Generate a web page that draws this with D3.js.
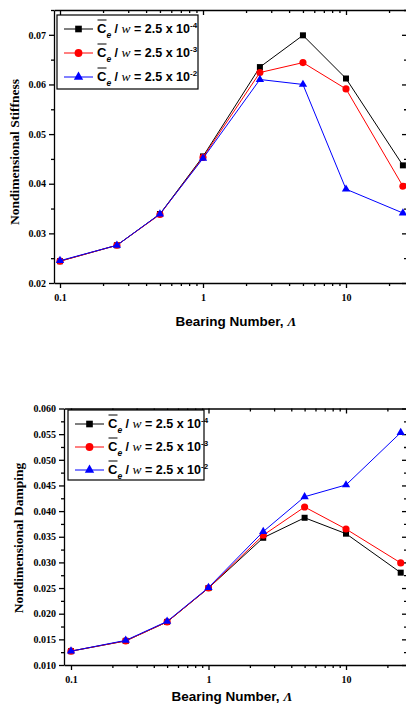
<!DOCTYPE html>
<html>
<head>
<meta charset="utf-8">
<script src="https://cdn.jsdelivr.net/npm/d3@7"></script>
<style>
  body { margin: 0; background: #fff; }
  svg { display: block; }
  .tick text { font-family: "Liberation Serif", "Times New Roman", serif; font-weight: bold; font-size: 10px; }
</style>
</head>
<body>
<svg id="chart" width="406" height="704"></svg>
<script>
// bearing numbers (x) shared by both panels
const bearing = [0.1, 0.25, 0.5, 1, 2.5, 5, 10, 25];
const exponents = ["-4", "-3", "-2"];
const colors = ["#000000", "#ff0000", "#0000ff"];
const shapes = [d3.symbolSquare, d3.symbolCircle, d3.symbolTriangle];
const shapeSize = [36, 40, 30];

const stiffA = [0.0244, 0.0276, 0.0339, 0.0455, 0.0635, 0.0699, 0.0612, 0.0437];
const stiffB = [0.0244, 0.0276, 0.0338, 0.0453, 0.0624, 0.0644, 0.0591, 0.0395];
const stiffC = [0.0245, 0.0276, 0.0339, 0.0451, 0.0610, 0.0600, 0.0389, 0.0341];

const dampA = [0.0127, 0.0147, 0.0184, 0.0250, 0.0348, 0.0387, 0.0356, 0.0280];
const dampB = [0.0127, 0.0147, 0.0184, 0.0250, 0.0353, 0.0408, 0.0365, 0.0299];
const dampC = [0.0127, 0.0148, 0.0185, 0.0251, 0.0360, 0.0428, 0.0451, 0.0553];

const xMajor = [0.1, 1, 10];
const xMinor = [0.2, 0.3, 0.4, 0.5, 0.6, 0.7, 0.8, 0.9, 2, 3, 4, 5, 6, 7, 8, 9, 20];

const svg = d3.select("#chart");

function drawPanel(cfg) {
  const g = svg.append("g");

  // log x scale anchored so that 0.1 and 10 fall where the picture has them
  const x = d3.scaleLog().domain([0.1, 10]).range([cfg.x01, cfg.x10]);
  x.domain([x.invert(cfg.left), x.invert(cfg.right)]).range([cfg.left, cfg.right]);
  const y = d3.scaleLinear().domain(cfg.yDomain).range([cfg.bottom, cfg.top]);

  const axisStyle = sel => sel.selectAll("path, line").attr("stroke", "#000").attr("stroke-width", 1.3);

  // bottom
  g.append("g").attr("transform", `translate(0,${cfg.bottom})`)
    .call(d3.axisBottom(x).tickValues(xMinor).tickSize(3).tickSizeOuter(0).tickFormat(""))
    .call(axisStyle);
  g.append("g").attr("transform", `translate(0,${cfg.bottom})`)
    .call(d3.axisBottom(x).tickValues(xMajor).tickSize(5).tickSizeOuter(0).tickPadding(6).tickFormat(d3.format("")))
    .call(axisStyle)
    .call(a => a.select(".domain").remove());
  // top (mirror, inward)
  g.append("g").attr("transform", `translate(0,${cfg.top})`)
    .call(d3.axisTop(x).tickValues(xMinor).tickSize(-3).tickSizeOuter(0).tickFormat(""))
    .call(axisStyle);
  g.append("g").attr("transform", `translate(0,${cfg.top})`)
    .call(d3.axisTop(x).tickValues(xMajor).tickSize(-5).tickSizeOuter(0).tickFormat(""))
    .call(axisStyle)
    .call(a => a.select(".domain").remove());
  // left
  g.append("g").attr("transform", `translate(${cfg.left},0)`)
    .call(d3.axisLeft(y).tickValues(cfg.yMinor).tickSize(3).tickSizeOuter(0).tickFormat(""))
    .call(axisStyle);
  g.append("g").attr("transform", `translate(${cfg.left},0)`)
    .call(d3.axisLeft(y).tickValues(cfg.yMajor).tickSize(5).tickSizeOuter(0).tickPadding(3).tickFormat(d3.format(cfg.yFormat)))
    .call(axisStyle)
    .call(a => a.select(".domain").remove());
  // right (mirror, inward)
  g.append("g").attr("transform", `translate(${cfg.right},0)`)
    .call(d3.axisRight(y).tickValues(cfg.yMinor).tickSize(-3).tickSizeOuter(0).tickFormat(""))
    .call(axisStyle);
  g.append("g").attr("transform", `translate(${cfg.right},0)`)
    .call(d3.axisRight(y).tickValues(cfg.yMajor).tickSize(-5).tickSizeOuter(0).tickFormat(""))
    .call(axisStyle)
    .call(a => a.select(".domain").remove());

  g.selectAll(".tick text").attr("fill", "#000");

  // axis titles
  g.append("text")
    .attr("transform", `translate(${cfg.yLabelX},${cfg.yLabelY}) rotate(-90)`)
    .attr("text-anchor", "middle")
    .style("font-family", "'Liberation Serif', 'Times New Roman', serif")
    .style("font-weight", "bold")
    .style("font-size", cfg.yLabelSize + "px")
    .text(cfg.yLabel);

  const xl = g.append("text")
    .attr("x", cfg.xLabelX).attr("y", cfg.xLabelY)
    .attr("text-anchor", "middle")
    .style("font-family", "'Liberation Sans', Arial, sans-serif")
    .style("font-weight", "bold")
    .style("font-size", "13.5px");
  xl.append("tspan").text("Bearing Number, ");
  xl.append("tspan").style("font-family", "'Liberation Serif', serif").style("font-style", "italic").text("Λ");

  // series
  const line = d3.line().x(d => x(d[0])).y(d => y(d[1]));
  cfg.series.forEach((vals, i) => {
    const pts = bearing.map((b, k) => [b, vals[k]]);
    g.append("path").datum(pts)
      .attr("d", line).attr("fill", "none")
      .attr("stroke", colors[i]).attr("stroke-width", 1);
    g.selectAll(null).data(pts).join("path")
      .attr("transform", d => `translate(${x(d[0])},${y(d[1])})`)
      .attr("d", d3.symbol(shapes[i], shapeSize[i]))
      .attr("fill", colors[i]);
  });

  // legend
  const lg = g.append("g").attr("transform", `translate(${cfg.legX},${cfg.legY})`);
  lg.append("rect")
    .attr("width", cfg.legW).attr("height", cfg.legH)
    .attr("fill", "#fff").attr("stroke", "#000").attr("stroke-width", 1.2);
  exponents.forEach((ex, i) => {
    const ry = 14 + i * cfg.legStep;
    lg.append("line").attr("x1", 7).attr("x2", 36).attr("y1", ry).attr("y2", ry)
      .attr("stroke", colors[i]).attr("stroke-width", 1);
    lg.append("path").attr("transform", `translate(21.5,${ry})`)
      .attr("d", d3.symbol(shapes[i], shapeSize[i] + 8)).attr("fill", colors[i]);

    const t = lg.append("text")
      .attr("x", 40).attr("y", ry + 3.5)
      .style("font-family", "'Liberation Sans', Arial, sans-serif")
      .style("font-weight", "bold")
      .style("font-size", "12.5px");
    t.append("tspan").style("font-size", "13px").text("C");
    t.append("tspan").attr("dy", 5).style("font-size", "8.5px").style("font-style", "italic").text("e");
    t.append("tspan").attr("dy", -5).text(" / ");
    t.append("tspan").style("font-family", "'Liberation Serif', serif").style("font-style", "italic").style("font-weight", "normal").style("font-size", "13.5px").text("w");
    t.append("tspan").text(" = 2.5 x 10");
    t.append("tspan").attr("dy", -5).style("font-size", "8px").text(ex);
    // overline above C
    lg.append("line").attr("x1", 40.5).attr("x2", 49.5).attr("y1", ry - 9).attr("y2", ry - 9)
      .attr("stroke", "#000").attr("stroke-width", 1);
  });
}

drawPanel({
  left: 54, right: 407, top: 10, bottom: 283,
  x01: 60, x10: 346,
  yDomain: [0.02, 0.075],
  yMajor: [0.02, 0.03, 0.04, 0.05, 0.06, 0.07],
  yMinor: [0.025, 0.035, 0.045, 0.055, 0.065, 0.075],
  yFormat: ".2f",
  yLabel: "Nondimensional Stiffness", yLabelX: 19, yLabelY: 152, yLabelSize: 13.5,
  xLabelX: 236, xLabelY: 326,
  series: [stiffA, stiffB, stiffC],
  legX: 57, legY: 15, legW: 141, legH: 74, legStep: 24
});

drawPanel({
  left: 64, right: 407, top: 408.5, bottom: 665,
  x01: 71, x10: 346,
  yDomain: [0.01, 0.06],
  yMajor: [0.010, 0.015, 0.020, 0.025, 0.030, 0.035, 0.040, 0.045, 0.050, 0.055, 0.060],
  yMinor: [0.0125, 0.0175, 0.0225, 0.0275, 0.0325, 0.0375, 0.0425, 0.0475, 0.0525, 0.0575],
  yFormat: ".3f",
  yLabel: "Nondimensional Damping", yLabelX: 23, yLabelY: 538, yLabelSize: 13.5,
  xLabelX: 232, xLabelY: 701,
  series: [dampA, dampB, dampC],
  legX: 68, legY: 410, legW: 136, legH: 70, legStep: 23
});
</script>
</body>
</html>
